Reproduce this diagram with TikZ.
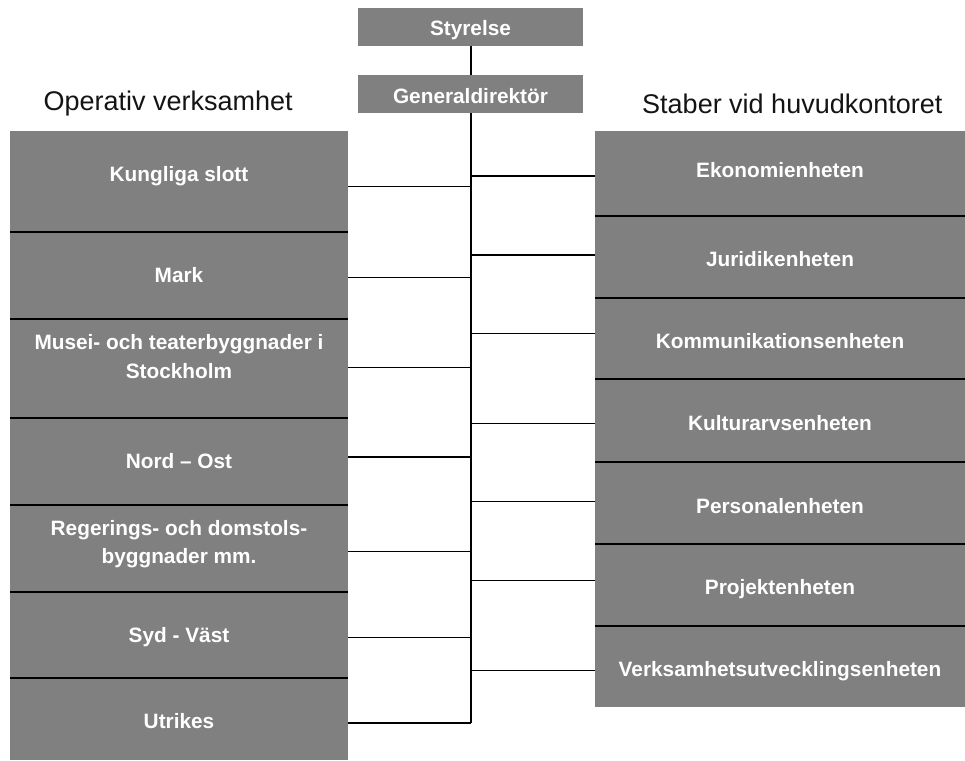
\documentclass[tikz,border=0pt]{standalone}
\usepackage{fontspec}
\setmainfont{Liberation Sans}
\definecolor{boxgray}{HTML}{808080}
\definecolor{headblack}{HTML}{141414}
\newcommand\boxfont{\fontsize{20.8}{28.3}\selectfont\bfseries}
\newcommand\headfont{\fontsize{27}{32}\selectfont}
\begin{document}
\begin{tikzpicture}[x=1pt,y=-1pt,
  unitbox/.style={fill=boxgray, draw=none, inner sep=0pt, outer sep=0pt, anchor=north west},
  lbl/.style={text=white, font=\boxfont, anchor=base, inner sep=0pt, align=center},
  head/.style={text=headblack, font=\headfont, anchor=base west, inner sep=0pt},
  conn/.style={draw=black, line width=1.5pt},
  divider/.style={draw=black, line width=1.8pt}]
\useasboundingbox (0,0) rectangle (965,760);

% top boxes
\node[unitbox, minimum width=225pt, minimum height=38pt] (S) at (358,8) {};
\node[unitbox, minimum width=225pt, minimum height=38pt] (G) at (358,75) {};
\node[lbl] at (470.5,36) {Styrelse};
\node[lbl] at (470.5,103) {Generaldirektör};

% headings
\node[head] at (43.5,110.5) {Operativ verksamhet};
\node[head] at (642,113) {Staber vid huvudkontoret};

% left boxes
\node[unitbox, minimum width=338pt, minimum height=101pt] (L1) at (10,131) {};
\node[unitbox, minimum width=338pt, minimum height=87pt] (L2) at (10,232) {};
\node[unitbox, minimum width=338pt, minimum height=99pt] (L3) at (10,319) {};
\node[unitbox, minimum width=338pt, minimum height=87pt] (L4) at (10,418) {};
\node[unitbox, minimum width=338pt, minimum height=87pt] (L5) at (10,505) {};
\node[unitbox, minimum width=338pt, minimum height=86pt] (L6) at (10,592) {};
\node[unitbox, minimum width=338pt, minimum height=82pt] (L7) at (10,678) {};
\foreach \n in {L1,L2,L3,L4,L5,L6} \draw[divider] (\n.south west) -- (\n.south east);

\node[lbl] at (179,181.7) {Kungliga slott};
\node[lbl] at (179,282) {Mark};
\node[lbl] at (179,378) {Musei- och teaterbyggnader i\\Stockholm};
\node[lbl] at (179,468) {Nord – Ost};
\node[lbl] at (179,563.3) {Regerings- och domstols-\\byggnader mm.};
\node[lbl] at (179,642) {Syd - Väst};
\node[lbl] at (179,728) {Utrikes};

% right boxes
\node[unitbox, minimum width=370pt, minimum height=85pt] (R1) at (595,131) {};
\node[unitbox, minimum width=370pt, minimum height=82pt] (R2) at (595,216) {};
\node[unitbox, minimum width=370pt, minimum height=81pt] (R3) at (595,298) {};
\node[unitbox, minimum width=370pt, minimum height=83pt] (R4) at (595,379) {};
\node[unitbox, minimum width=370pt, minimum height=82pt] (R5) at (595,462) {};
\node[unitbox, minimum width=370pt, minimum height=82pt] (R6) at (595,544) {};
\node[unitbox, minimum width=370pt, minimum height=81pt] (R7) at (595,626) {};
\foreach \n in {R1,R2,R3,R4,R5,R6} \draw[divider] (\n.south west) -- (\n.south east);

\node[lbl] at (780,177.5) {Ekonomienheten};
\node[lbl] at (780,266) {Juridikenheten};
\node[lbl] at (780,348) {Kommunikationsenheten};
\node[lbl] at (780,430) {Kulturarvsenheten};
\node[lbl] at (780,513) {Personalenheten};
\node[lbl] at (780,594) {Projektenheten};
\node[lbl] at (780,676) {Verksamhetsutvecklingsenheten};

% trunk points
\coordinate (tL1) at (471,186.7);
\coordinate (tL2) at (471,277.7);
\coordinate (tL3) at (471,367.7);
\coordinate (tL4) at (471,457);
\coordinate (tL5) at (471,551.7);
\coordinate (tL6) at (471,637.7);
\coordinate (tL7) at (471,723);
\coordinate (tR1) at (471,176);
\coordinate (tR2) at (471,255);
\coordinate (tR3) at (471,333.3);
\coordinate (tR4) at (471,423.3);
\coordinate (tR5) at (471,501.7);
\coordinate (tR6) at (471,580.7);
\coordinate (tR7) at (471,670.7);

\draw[conn] (S.south -| tL1) -- (G.north -| tL1);
\draw[conn] (G.south -| tL1) -- (tL7);
\foreach \n in {L1,L2,L3,L4,L5,L6,L7} \draw[conn] (\n.east |- t\n) -- (t\n);
\foreach \n in {R1,R2,R3,R4,R5,R6,R7} \draw[conn] (t\n) -- (\n.west |- t\n);
\end{tikzpicture}
\end{document}
